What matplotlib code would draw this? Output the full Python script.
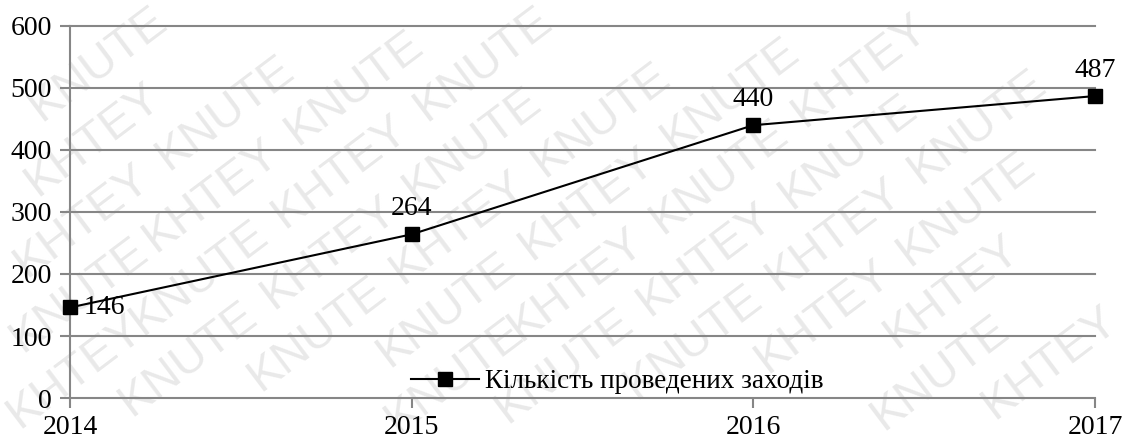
import numpy as np
import matplotlib.pyplot as plt

# Data
years = [2014, 2015, 2016, 2017]
events = [146, 264, 440, 487]
y_ticks = [0, 100, 200, 300, 400, 500, 600]
series_name = "Кількість проведених заходів"
wm_words = ["KHTEY", "KNUTE"]

plt.rcParams['font.family'] = ['Liberation Serif', 'DejaVu Serif']

W, H = 1125, 443
fig = plt.figure(figsize=(W / 100, H / 100), dpi=100)

# watermark, whole words only
ang = np.deg2rad(37)
d = np.array([np.cos(ang), np.sin(ang)])
n = np.array([-np.sin(ang), np.cos(ang)])
renderer = fig.canvas.get_renderer()
for r in range(-25, 25):
    for k in range(-15, 15):
        p0 = k * 178 * d + r * 58 * n + (r % 3) * 60 * d
        if p0[0] < -300 or p0[0] > W + 100 or p0[1] < -300 or p0[1] > H + 100:
            continue
        t = fig.text(0, 0, wm_words[(k + r) % 2], rotation=37,
                     fontsize=34, color='#e9e9e9', family='Liberation Sans',
                     ha='left', va='baseline', rotation_mode='anchor', zorder=-5)
        ok = False
        for s in [0, -12, 12, -24, 24]:
            p = p0 + s * d
            t.set_position((p[0] / W, p[1] / H))
            bb = t.get_window_extent(renderer)
            if bb.x0 >= -2 and bb.y0 >= -2 and bb.x1 <= W + 2 and bb.y1 <= H + 2:
                ok = True
                break
        if not ok:
            t.remove()

ax = fig.add_axes([70 / W, 1 - 398 / H, 1025 / W, 372 / H])
ax.set_zorder(2)
ax.patch.set_alpha(0)

grid_c = '#868686'
for v in y_ticks:
    ax.axhline(v, color=grid_c, lw=1.5, zorder=1, clip_on=False)

ax.plot(years, events, color='black', lw=1.5, marker='s', markersize=10,
        clip_on=False, zorder=3, label=series_name)

# data labels
ax.annotate(str(events[0]), (years[0], events[0]), xytext=(10, 0),
            textcoords='offset points', ha='left', va='center', fontsize=20)
for x, y in zip(years[1:], events[1:]):
    ax.annotate(str(y), (x, y), xytext=(0, 14), textcoords='offset points',
                ha='center', va='baseline', fontsize=20)

ax.set_xlim(2014, 2017)
ax.set_ylim(0, 600)
ax.set_xticks(years)
ax.set_yticks(y_ticks)
ax.tick_params(axis='both', labelsize=20, color=grid_c, width=1.5, length=7)
ax.tick_params(axis='y', pad=6)
ax.tick_params(axis='x', pad=5)

for s in ['top', 'right', 'bottom']:
    ax.spines[s].set_visible(False)
ax.spines['left'].set_color(grid_c)
ax.spines['left'].set_linewidth(1.5)

ax.legend(loc='lower center', bbox_to_anchor=(0.534, -0.055), frameon=False,
          fontsize=19.5, handlelength=2.5, handletextpad=0.25)

fig.savefig('out.png', dpi=100)
